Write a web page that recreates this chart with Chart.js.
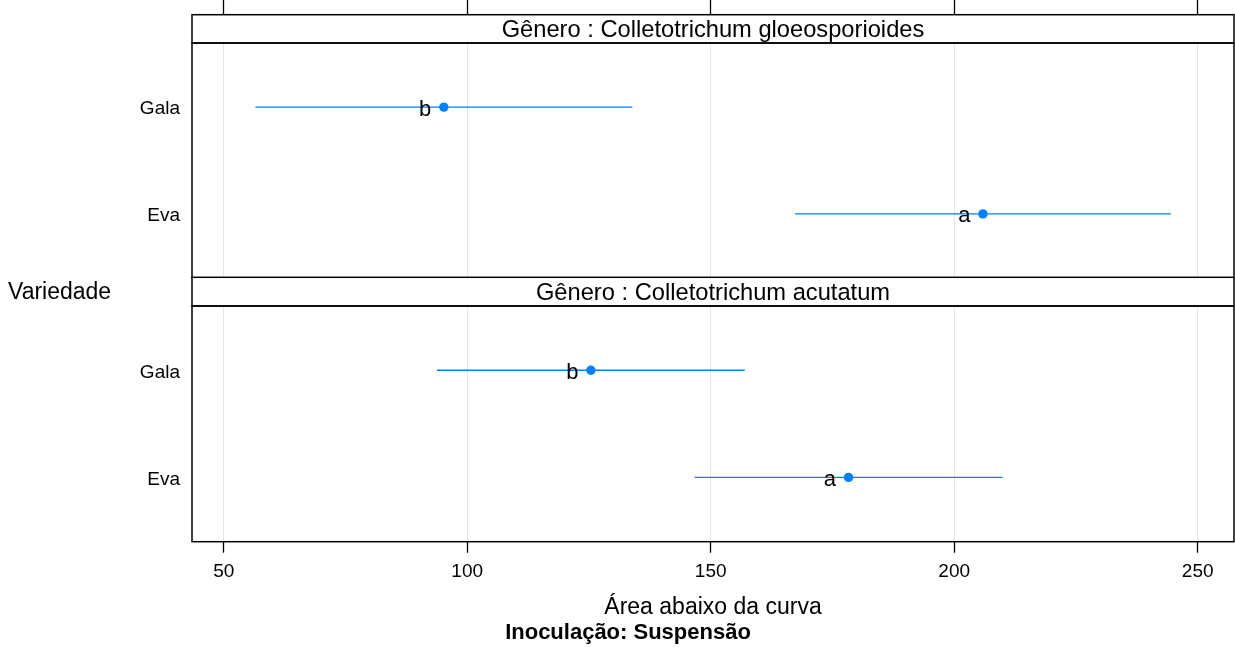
<!DOCTYPE html>
<html>
<head>
<meta charset="utf-8">
<script src="https://cdn.jsdelivr.net/npm/chart.js@4/dist/chart.umd.min.js"></script>
<style>
    body { margin: 0; background: #fff; width: 1235px; height: 657px; position: relative; overflow: hidden; }
    canvas { position: absolute; left: 0; }
    #topPanel { top: 0; }
    #bottomPanel { top: 270px; }
</style>
</head>
<body>
<canvas id="topPanel" width="1235" height="280"></canvas>
<canvas id="bottomPanel" width="1235" height="387"></canvas>
<script>
// Data
const varieties = ['Eva', 'Gala'];
const xTicks = [50, 100, 150, 200, 250];

const gloeoTitle = 'Gênero : Colletotrichum gloeosporioides';
const gloeoMean = [205.9, 95.2];
const gloeoLower = [167.3, 56.5];
const gloeoUpper = [244.5, 133.9];
const gloeoLetters = ['a', 'b'];

const acutTitle = 'Gênero : Colletotrichum acutatum';
const acutMean = [178.3, 125.4];
const acutLower = [146.7, 93.8];
const acutUpper = [209.9, 157.0];
const acutLetters = ['a', 'b'];

const xLabel = 'Área abaixo da curva';
const yLabel = 'Variedade';
const subLabel = 'Inoculação: Suspensão';

const FONT = "'Liberation Sans', Arial, sans-serif";
const BLUE = '#0080ff';
const X_MIN = 43.49;
const X_MAX = 257.45;

Chart.defaults.font.family = FONT;
Chart.defaults.color = '#000';

// Build datasets: means first so they draw on top, then one line per interval
function buildDatasets(mean, lower, upper) {
    const sets = [{
        type: 'scatter',
        data: mean.map((m, i) => ({ x: m, y: i + 1 })),
        backgroundColor: BLUE,
        borderWidth: 0,
        pointRadius: 4.7
    }];
    lower.forEach((lo, i) => {
        sets.push({
            type: 'line',
            data: [{ x: lo, y: i + 1 }, { x: upper[i], y: i + 1 }],
            borderColor: BLUE,
            borderWidth: 1.4,
            pointRadius: 0,
            fill: false
        });
    });
    return sets;
}

// Strip, panel box, letters and extra labels
function panelPlugin(title, mean, letters, stripTop, extra) {
    return {
        id: 'panelDecor',
        afterDraw(chart) {
            const { ctx, chartArea: a, scales: { x, y } } = chart;
            ctx.save();
            ctx.fillStyle = '#fff';
            ctx.fillRect(a.left, stripTop, a.right - a.left, a.top - stripTop);
            ctx.strokeStyle = '#000';
            ctx.lineWidth = 1.5;
            ctx.strokeRect(a.left, stripTop, a.right - a.left, a.top - stripTop);
            ctx.strokeRect(a.left, a.top, a.right - a.left, a.bottom - a.top);

            ctx.fillStyle = '#000';
            ctx.font = '23.7px ' + FONT;
            ctx.textAlign = 'center';
            ctx.textBaseline = 'middle';
            ctx.fillText(title, (a.left + a.right) / 2, (stripTop + a.top) / 2 + 1.8);

            ctx.font = '22px ' + FONT;
            ctx.textAlign = 'right';
            ctx.textBaseline = 'alphabetic';
            mean.forEach((m, i) => {
                ctx.fillText(letters[i], x.getPixelForValue(m) - 12.5, y.getPixelForValue(i + 1) + 8.5);
            });
            if (extra) extra(ctx);
            ctx.restore();
        }
    };
}

function makePanel(canvasId, opts) {
    const isBottom = opts.isBottom;
    const xScale = {
        type: 'linear',
        position: isBottom ? 'bottom' : 'top',
        min: X_MIN,
        max: X_MAX,
        afterBuildTicks: s => { s.ticks = xTicks.map(v => ({ value: v })); },
        grid: {
            color: '#e6e6e6',
            lineWidth: 1,
            tickColor: '#000',
            tickWidth: 1.3,
            drawTicks: true,
            tickLength: isBottom ? 11 : 43
        },
        border: { display: false },
        ticks: {
            display: isBottom,
            font: { size: 19 },
            color: '#000',
            padding: 8,
            maxRotation: 0
        },
        title: {
            display: isBottom,
            text: xLabel,
            font: { size: 23 },
            color: '#000',
            padding: { top: 0, bottom: 36 }
        },
        afterFit: s => {
            s.height = isBottom ? 115.3 : 43;
            s.paddingLeft = 0;
            s.paddingRight = 0;
        }
    };

    return new Chart(document.getElementById(canvasId), {
        data: { datasets: buildDatasets(opts.mean, opts.lower, opts.upper) },
        options: {
            responsive: false,
            animation: false,
            devicePixelRatio: 1,
            layout: {
                autoPadding: false,
                padding: { left: 0, right: 1, top: isBottom ? 36 : 0, bottom: isBottom ? 0 : 2 }
            },
            plugins: { legend: { display: false }, tooltip: { enabled: false } },
            scales: {
                x: xScale,
                y: {
                    type: 'linear',
                    min: 0.4,
                    max: 2.6,
                    afterBuildTicks: s => { s.ticks = varieties.map((v, i) => ({ value: i + 1 })); },
                    ticks: {
                        callback: v => varieties[v - 1],
                        font: { size: 19 },
                        color: '#000',
                        padding: 12,
                        labelOffset: 2
                    },
                    grid: { display: false, drawTicks: false },
                    border: { display: false },
                    afterFit: s => {
                        s.width = 192;
                        s.paddingTop = 0;
                        s.paddingBottom = 0;
                    }
                }
            }
        },
        plugins: [panelPlugin(opts.title, opts.mean, opts.letters, opts.stripTop, opts.extra)]
    });
}

makePanel('topPanel', {
    isBottom: false,
    title: gloeoTitle,
    mean: gloeoMean,
    lower: gloeoLower,
    upper: gloeoUpper,
    letters: gloeoLetters,
    stripTop: 14.7
});

makePanel('bottomPanel', {
    isBottom: true,
    title: acutTitle,
    mean: acutMean,
    lower: acutLower,
    upper: acutUpper,
    letters: acutLetters,
    stripTop: 7.3,
    extra: ctx => {
        ctx.fillStyle = '#000';
        ctx.textBaseline = 'middle';
        ctx.textAlign = 'left';
        ctx.font = '23px ' + FONT;
        ctx.fillText(yLabel, 8, 22.5);
        ctx.textAlign = 'center';
        ctx.font = 'bold 22px ' + FONT;
        ctx.fillText(subLabel, 628, 362.5);
    }
});
</script>
</body>
</html>
